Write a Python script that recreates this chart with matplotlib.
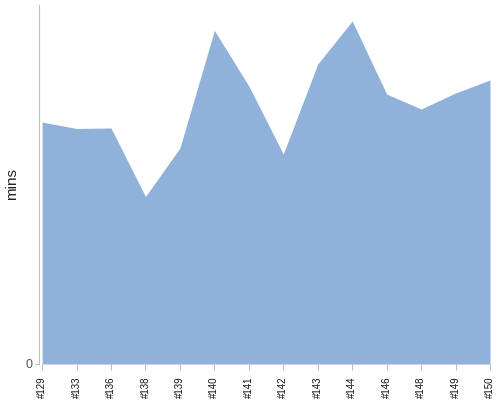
import matplotlib
matplotlib.use('Agg')
import matplotlib.pyplot as plt

plt.rcParams['font.family'] = ['Liberation Sans', 'DejaVu Sans']

builds = ['#129', '#133', '#136', '#138', '#139', '#140', '#141',
          '#142', '#143', '#144', '#146', '#148', '#149', '#150']
mins = [242, 235.5, 236, 167.5, 216, 333.5, 278,
        210, 300, 343, 270, 255, 271, 284]

fig = plt.figure(figsize=(5, 4), dpi=100)
ax = fig.add_axes([39/500, 36/400, 451/500, 359/400])

x = list(range(len(builds)))
ax.fill_between(x, mins, 0, color='#90b2da', linewidth=0)

ax.set_xlim(-0.09, len(builds) - 1)
ax.set_ylim(0, 359)

ax.set_xticks(x)
ax.set_xticklabels(builds, rotation=90, fontsize=7, color='#111111')
ax.set_yticks([0])
ax.set_yticklabels(['0'], fontsize=9, color='#555555')
ax.set_ylabel('mins', fontsize=11, color='#222222')
ax.yaxis.set_label_coords(-0.045, 0.5)

for s in ['top', 'right', 'bottom']:
    ax.spines[s].set_visible(False)
ax.spines['left'].set_color('#c0c0c0')
ax.tick_params(axis='x', length=4, color='#c0c0c0', pad=5)
ax.tick_params(axis='y', length=3, color='#c0c0c0', pad=2)

fig.savefig('out.png', dpi=100)
